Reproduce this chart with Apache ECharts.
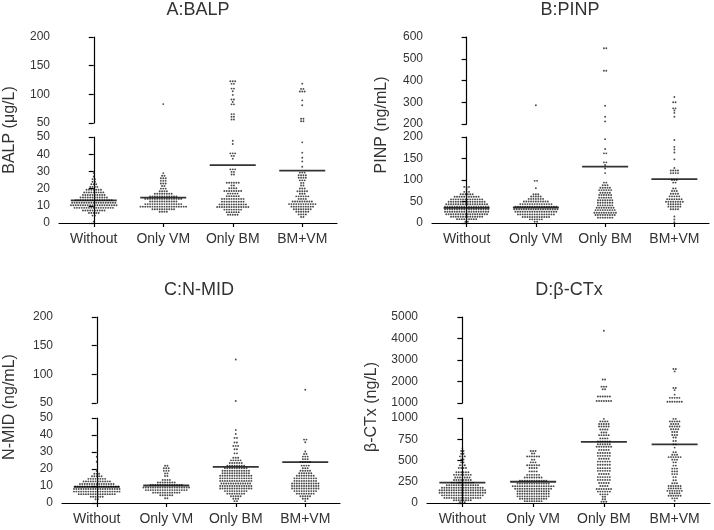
<!DOCTYPE html>
<html><head><meta charset="utf-8">
<script src="https://cdn.jsdelivr.net/npm/echarts@6/dist/echarts.min.js"></script>
<style>html,body{margin:0;padding:0;background:#fff}#c{width:714px;height:530px}</style>
</head><body><div id="c"></div>
<script>
const categories = ['Without', 'Only VM', 'Only BM', 'BM+VM'];

// Each row: [value, number of dots drawn side by side at that value]
const balpWithout = [[29,1],[27,1],[25.5,2],[24,2],[22.5,3],[21,4],[19.3,7],[17.8,9],[16.3,10],[14.8,12],[13.3,16],[11.8,19],[10.3,20],[8.8,17],[7.3,10],[5.8,5],[4.3,2],[0.8,1]];
const balpOnlyVM = [[83,1],[29,1],[27.5,2],[26,3],[24.5,3],[23,3],[21.5,2],[20,3],[18.5,4],[17,8],[15.5,12],[14,16],[12.5,12],[11,16],[9.5,20],[8,10],[6.5,4]];
const balpOnlyBM = [[122.7,3],[118.3,2],[110,2],[105.5,1],[99,1],[91,2],[86.5,1],[82.5,2],[65.5,2],[61,2],[56,2],[47.8,1],[45.9,1],[40.5,3],[39,2],[37.4,1],[31.2,3],[29.7,2],[28.2,2],[23.4,6],[21.8,2],[20.2,4],[18.6,8],[17.1,5],[15.6,6],[14,10],[12.4,10],[10.8,12],[9.3,14],[7.8,8],[6.3,6],[4.8,5]];
const balpBMVM = [[118.6,1],[109.5,2],[105,3],[89.5,1],[81,1],[57.5,2],[53,2],[46.9,1],[40.9,1],[37.9,1],[35.8,1],[32.7,1],[29.3,3],[27.8,4],[26.3,4],[24.8,3],[23.3,2],[21.8,2],[20.1,3],[18.5,5],[17,3],[15.5,6],[14,4],[12.5,9],[11,12],[9.5,10],[8,8],[6.5,6],[5,4],[3.5,2]];
const balpMeans = [13.2, 14.7, 33.7, 30.5];
const balpTicksUpper = [50, 100, 150, 200];
const balpTicksLower = [0, 10, 20, 30, 40, 50];

const pinpWithout = [[84,3],[79,1],[72.5,3],[67,6],[61,11],[55,14],[49.5,16],[43.5,18],[38,19],[32,19],[26,19],[20.5,18],[14.5,14],[9,9],[3,2]];
const pinpOnlyVM = [[286,1],[98,2],[81,1],[67,3],[61.5,5],[56,7],[50,11],[44,14],[38,18],[32,19],[26,18],[20,16],[14,12],[8.5,6],[3,2]];
const pinpOnlyBM = [[548,2],[445,2],[284,1],[233,1],[212,1],[195,1],[172,1],[162,2],[141,2],[135,1],[127,1],[116,1],[94,2],[88,3],[82,5],[76.5,6],[70.5,5],[65,6],[59,6],[53,7],[47,7],[41,7],[35.5,8],[30,9],[24,10],[18.5,9],[12.5,7]];
const pinpBMVM = [[324,1],[300,2],[272,2],[262,1],[251,1],[233,1],[193,1],[177,1],[171,1],[164,1],[148,1],[128,1],[122,4],[116,4],[100,3],[94,2],[80.5,2],[74.5,3],[68,4],[62,5],[55.5,7],[49.5,8],[43.5,6],[38,6],[32,4],[15,1],[8,1],[2,1]];
const pinpMeans = [35, 36, 131, 102];
const pinpTicksUpper = [200, 300, 400, 500, 600];
const pinpTicksLower = [0, 50, 100, 150, 200];

const nmidWithout = [[27.2,1],[24.3,1],[18.8,1],[17.2,3],[15.7,5],[14.2,8],[12.7,12],[11.2,15],[9.7,19],[8.2,20],[6.7,20],[5.2,16],[3.7,6],[2.2,2]];
const nmidOnlyVM = [[21.9,2],[20.4,3],[18.9,3],[17.4,2],[15.9,2],[13.6,4],[12.1,8],[10.6,14],[9.1,20],[7.6,18],[6.1,12],[4.6,6],[2.8,2]];
const nmidOnlyBM = [[126,1],[53.5,1],[43,1],[40.6,1],[38.3,2],[35.6,2],[33.6,3],[31.6,2],[29.2,2],[26.6,3],[25.1,5],[23.5,6],[22,8],[20.5,10],[19,12],[17.5,12],[16,14],[14.5,14],[13,14],[11.5,13],[10,14],[8.5,14],[7,10],[5.5,8],[4,5],[2.5,3],[1.1,2]];
const nmidBMVM = [[73,1],[37.3,2],[35.7,1],[30.3,1],[28.8,2],[27.3,3],[25.8,3],[24.2,5],[22,4],[20.5,3],[19,5],[17.5,6],[16,8],[14.5,10],[13,10],[11.5,12],[10,12],[8.5,12],[7,10],[5.5,8],[4,5],[2.5,3],[1.1,1]];
const nmidMeans = [9.5, 10.3, 21.2, 24];
const nmidTicksUpper = [50, 100, 150, 200];
const nmidTicksLower = [0, 10, 20, 30, 40, 50];

const ctxWithout = [[643,1],[612,2],[580,2],[548,3],[512,2],[478,2],[444,3],[412,4],[362,6],[331,8],[300,7],[270,8],[240,10],[210,14],[180,18],[150,20],[120,20],[90,18],[60,16],[32,8],[8,3]];
const ctxOnlyVM = [[612,3],[582,2],[548,6],[510,2],[478,3],[444,6],[412,4],[372,4],[331,6],[300,8],[262,12],[228,14],[198,18],[168,16],[138,14],[108,14],[78,14],[50,12],[22,8]];
const ctxOnlyBM = [[4363,1],[2090,2],[1760,3],[1640,2],[1300,6],[1090,7],[990,1],[960,4],[930,5],[900,5],[865,4],[830,3],[798,5],[760,4],[725,6],[692,6],[662,7],[625,5],[588,6],[555,6],[520,5],[487,6],[450,6],[410,6],[378,6],[342,5],[305,6],[272,6],[235,5],[200,4],[165,7],[134,6],[102,4],[74,2],[45,2],[14,3]];
const ctxBMVM = [[2580,2],[2470,1],[1700,2],[1600,1],[1390,1],[1240,5],[1060,7],[990,2],[960,5],[930,4],[900,5],[868,4],[835,3],[800,3],[770,2],[730,2],[690,2],[652,1],[598,2],[568,3],[540,6],[510,3],[478,2],[440,2],[405,3],[372,3],[340,3],[305,2],[268,2],[232,3],[200,6],[172,6],[143,7],[114,5],[86,6],[55,3],[27,1]];
const ctxMeans = [240, 250, 720, 690];
const ctxTicksUpper = [1000, 2000, 3000, 4000, 5000];
const ctxTicksLower = [0, 250, 500, 750, 1000];

const panels = [
  { title: 'A:BALP', yName: 'BALP (μg/L)', groups: [balpWithout, balpOnlyVM, balpOnlyBM, balpBMVM], means: balpMeans, up: balpTicksUpper, low: balpTicksLower,
    left: 59, width: 278, upTop: 37, upH: 86, lowTop: 137, lowH: 86, tx: 198, ty: 10, nx: 10, ny: 130 },
  { title: 'B:PINP', yName: 'PINP (ng/mL)', groups: [pinpWithout, pinpOnlyVM, pinpOnlyBM, pinpBMVM], means: pinpMeans, up: pinpTicksUpper, low: pinpTicksLower,
    left: 432, width: 277, upTop: 37, upH: 87, lowTop: 137, lowH: 86, tx: 570, ty: 10, nx: 382, ny: 125 },
  { title: 'C:N-MID', yName: 'N-MID (ng/mL)', groups: [nmidWithout, nmidOnlyVM, nmidOnlyBM, nmidBMVM], means: nmidMeans, up: nmidTicksUpper, low: nmidTicksLower,
    left: 62, width: 278, upTop: 317, upH: 86, lowTop: 418, lowH: 85, tx: 199, ty: 290, nx: 10, ny: 407 },
  { title: 'D:β-CTx', yName: 'β-CTx (ng/L)', groups: [ctxWithout, ctxOnlyVM, ctxOnlyBM, ctxBMVM], means: ctxMeans, up: ctxTicksUpper, low: ctxTicksLower,
    left: 427, width: 283, upTop: 317, upH: 86, lowTop: 418, lowH: 85, tx: 569, ty: 290, nx: 372, ny: 407 }
];

const FONT = '"Liberation Sans", Arial, sans-serif';
const DOT_GAP = 2.4;       // px between dot centres in a row
const DOT_SIZE = 1.9;
const MEAN_W = 46;

const axisLineStyle = { color: '#000', width: 1.2 };
function yAxisCfg(gridIndex, ticks) {
  return {
    type: 'value', gridIndex,
    min: ticks[0], max: ticks[ticks.length - 1], interval: ticks[1] - ticks[0],
    axisLine: { show: true, lineStyle: axisLineStyle },
    axisTick: { show: true, length: 5, lineStyle: axisLineStyle },
    axisLabel: { fontSize: 12, color: '#333', margin: 9, fontFamily: FONT, formatter: v => String(v) },
    splitLine: { show: false }
  };
}

function dotsFor(groups, lo, hi, inclLo, pxPerUnit) {
  const pts = [];
  groups.forEach((rows, cat) => {
    rows.forEach(([v, n]) => {
      const inside = inclLo ? (v >= lo && v <= hi) : (v < hi && v >= lo);
      if (!inside) return;
      for (let k = 0; k < n; k++) {
        pts.push([cat + (k - (n - 1) / 2) * DOT_GAP / pxPerUnit, v]);
      }
    });
  });
  return pts;
}

const option = {
  animation: false, backgroundColor: '#fff',
  textStyle: { fontFamily: FONT },
  grid: [], xAxis: [], yAxis: [], series: [], graphic: []
};

panels.forEach(p => {
  const gU = option.grid.length;
  const gL = gU + 1;
  option.grid.push({ left: p.left, top: p.upTop, width: p.width, height: p.upH, outerBoundsMode: 'none' });
  option.grid.push({ left: p.left, top: p.lowTop, width: p.width, height: p.lowH, outerBoundsMode: 'none' });

  const xU = option.xAxis.length;
  option.xAxis.push({ type: 'value', gridIndex: gU, min: -0.5, max: 3.5, show: false, position: 'top' });
  const xL = option.xAxis.length;
  option.xAxis.push({ type: 'value', gridIndex: gL, min: -0.5, max: 3.5, show: false, position: 'top' });
  option.xAxis.push({
    type: 'category', gridIndex: gL, data: categories, position: 'bottom', boundaryGap: true,
    axisLine: { show: true, lineStyle: axisLineStyle },
    axisTick: { show: true, alignWithLabel: true, length: 4, lineStyle: axisLineStyle },
    axisLabel: { fontSize: 14, color: '#333', margin: 9, fontFamily: FONT, interval: 0, hideOverlap: false },
    splitLine: { show: false }
  });

  const yU = option.yAxis.length;
  option.yAxis.push(yAxisCfg(gU, p.up));
  const yL = option.yAxis.length;
  option.yAxis.push(yAxisCfg(gL, p.low));

  const pxPerUnit = p.width / 4;
  const brk = p.up[0];
  const dotStyle = { type: 'scatter', symbol: 'circle', symbolSize: DOT_SIZE, silent: true,
    itemStyle: { color: '#1e1e1e' } };

  option.series.push(Object.assign({}, dotStyle, {
    xAxisIndex: xU, yAxisIndex: yU, data: dotsFor(p.groups, brk, p.up[p.up.length - 1], true, pxPerUnit)
  }));
  option.series.push(Object.assign({}, dotStyle, {
    xAxisIndex: xL, yAxisIndex: yL, data: dotsFor(p.groups, 0, brk, false, pxPerUnit)
  }));
  option.series.push({
    type: 'scatter', xAxisIndex: xL, yAxisIndex: yL, symbol: 'rect', symbolSize: [MEAN_W, 1.8],
    silent: true, z: 5, itemStyle: { color: '#000' },
    data: p.means.map((m, i) => [i, m])
  });

  option.graphic.push({
    type: 'text', x: p.tx, y: p.ty, silent: true,
    style: { text: p.title, fontSize: 18, fontFamily: FONT, fill: '#333', align: 'center', verticalAlign: 'middle' }
  });
  option.graphic.push({
    type: 'text', x: p.nx, y: p.ny, rotation: Math.PI / 2, silent: true,
    style: { text: p.yName, fontSize: 16, fontFamily: FONT, fill: '#333', align: 'center', verticalAlign: 'middle' }
  });
});

const chart = echarts.init(document.getElementById('c'), null, { renderer: 'canvas' });
chart.setOption(option);
</script>
</body></html>
